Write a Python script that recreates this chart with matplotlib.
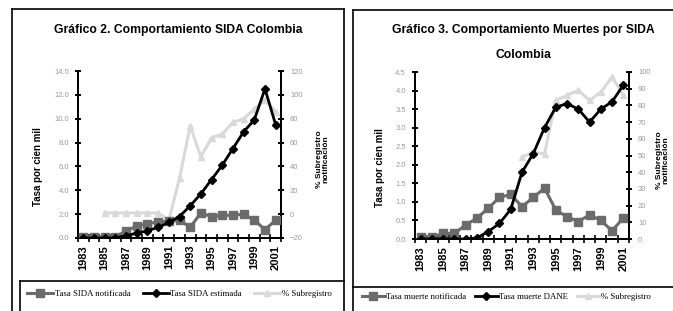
"""Two-panel Excel-style chart: SIDA rates and under-registration in Colombia."""

import matplotlib

matplotlib.use("Agg")
import matplotlib.pyplot as plt
import numpy as np
from matplotlib import font_manager
from matplotlib.lines import Line2D
from matplotlib.ticker import FormatStrFormatter, MultipleLocator

W, H = 673, 311

YEARS = list(range(1983, 2002))
YEAR_LABELS = [str(y) for y in YEARS[::2]]

# Gráfico 2
sida_notificada = [0.1, 0.1, 0.1, 0.1, 0.6, 1.0, 1.2, 1.35, 1.4, 1.5,
                   0.9, 2.1, 1.8, 1.9, 1.9, 2.0, 1.5, 0.7, 1.5]
sida_estimada = [0.0, 0.0, 0.0, 0.0, 0.2, 0.4, 0.6, 0.9, 1.3, 1.8,
                 2.7, 3.7, 4.9, 6.1, 7.5, 8.9, 9.9, 12.5, 9.5]
sida_subregistro = [None, None, 1, 1, 1, 1, 1, 1, -5, 30,
                    74, 48, 64, 67, 77, 80, 88, 96, 86]

# Gráfico 3
muerte_notificada = [0.05, 0.05, 0.15, 0.15, 0.38, 0.56, 0.83, 1.12, 1.2, 0.87,
                     1.12, 1.37, 0.78, 0.6, 0.47, 0.65, 0.5, 0.22, 0.57]
muerte_dane = [0.0, 0.0, 0.0, 0.0, 0.0, 0.03, 0.2, 0.42, 0.8, 1.8,
               2.3, 3.0, 3.55, 3.65, 3.5, 3.15, 3.5, 3.7, 4.15]
muerte_subregistro = [None] * 9 + [49, 52, 51, 83, 86, 89, 83, 88, 97, 86]


def pick(*names):
    have = {f.name for f in font_manager.fontManager.ttflist}
    for n in names:
        if n in have:
            return n
    return "DejaVu Sans"


NARROW = pick("Liberation Sans Narrow", "Liberation Sans", "Arial")
SANS = pick("Liberation Sans", "Arial")
SERIF = pick("Liberation Serif", "DejaVu Serif")

DARK = "#6b6b6b"
LIGHT = "#d9d9d9"
TICKGREY = "#9a9a9a"


def fx(x):
    return x / W


def fy(y):
    return 1 - y / H


def fig_line(fig, xs, ys):
    fig.add_artist(Line2D([fx(x) for x in xs], [fy(y) for y in ys],
                          transform=fig.transFigure, color="black", lw=1.2))


def to_arr(vals):
    return np.array([np.nan if v is None else v for v in vals], dtype=float)


def panel(fig, rect, left, right, lmax, lstep, rlim, rstep, ylx, yrx):
    ax = fig.add_axes(rect)
    tw = ax.twinx()
    x = np.arange(len(YEARS))

    l1, = ax.plot(x, left[0], color=DARK, lw=2.2, marker="s", ms=5.5,
                  mfc=DARK, mec=DARK, zorder=3)
    l2, = ax.plot(x, left[1], color="black", lw=2.0, marker="D", ms=4.5,
                  mfc="black", mec="black", zorder=4)
    l3, = tw.plot(x, to_arr(right), color=LIGHT, lw=2.2, marker="^", ms=5,
                  mfc=LIGHT, mec=LIGHT)
    ax.set_zorder(tw.get_zorder() + 1)
    ax.patch.set_visible(False)

    ax.set_xlim(-0.5, len(YEARS) - 0.5)
    ax.set_ylim(0, lmax)
    ax.yaxis.set_major_locator(MultipleLocator(lstep))
    ax.yaxis.set_major_formatter(FormatStrFormatter("%.1f"))
    tw.set_ylim(*rlim)
    tw.yaxis.set_major_locator(MultipleLocator(rstep))

    ax.set_xticks(x[::2])
    ax.set_xticklabels(YEAR_LABELS, rotation=90, fontsize=8,
                       fontweight="bold", family=SANS)
    ax.set_xticks(np.arange(-0.5, len(YEARS), 1), minor=True)
    ax.tick_params(axis="x", which="major", length=0, pad=5)
    ax.tick_params(axis="x", which="minor", direction="inout", length=6,
                   width=1.2)

    for a in (ax, tw):
        for s in a.spines.values():
            s.set_linewidth(1.4)
        a.spines["top"].set_visible(False)
        a.tick_params(axis="y", direction="inout", length=5, width=1.4,
                      labelsize=5.5, labelcolor=TICKGREY, pad=4)
        for t in a.get_yticklabels():
            t.set_family(SANS)

    ax.set_ylabel("Tasa por cien mil", fontsize=7, fontweight="bold",
                  family=SANS)
    ax.yaxis.set_label_coords(ylx, 0.43)
    tw.set_ylabel("% Subregistro\nnotificación", fontsize=6,
                  fontweight="bold", family=SANS, rotation=90,
                  linespacing=1.0)
    tw.yaxis.set_label_coords(yrx, 0.47)
    return l1, l2, l3


def legend(fig, handles, labels, x, y, hlen, spacing):
    fig.legend(handles, labels, loc="center left",
               bbox_to_anchor=(fx(x), fy(y)), ncol=3, frameon=False,
               borderaxespad=0, borderpad=0, handlelength=hlen,
               handletextpad=0.15, columnspacing=spacing,
               prop={"family": SERIF, "size": 6.3})


def main():
    fig = plt.figure(figsize=(W / 100, H / 100), dpi=100)

    # frames as in the scanned page
    fig_line(fig, [12, 344], [9, 9])
    fig_line(fig, [12, 12], [9, 311])
    fig_line(fig, [344, 344], [9, 311])
    fig_line(fig, [20, 344], [281, 281])
    fig_line(fig, [20, 20], [281, 311])
    fig_line(fig, [353, 673], [10, 10])
    fig_line(fig, [353, 353], [10, 311])
    fig_line(fig, [353, 673], [287, 287])

    h = panel(fig, [fx(78), fy(238), (281 - 78) / W, (238 - 71) / H],
              (sida_notificada, sida_estimada), sida_subregistro,
              14, 2, (-20, 120), 20, -0.172, 1.17)
    fig.text(fx(178), fy(30), "Gráfico 2. Comportamiento SIDA Colombia",
             ha="center", va="center", fontsize=8.7, fontweight="bold",
             family=NARROW)
    legend(fig, h, ["Tasa SIDA notificada", "Tasa SIDA estimada",
                    "% Subregistro"], 27, 294, 3.0, 1.4)

    h = panel(fig, [fx(415), fy(239), (629 - 415) / W, (239 - 72) / H],
              (muerte_notificada, muerte_dane), muerte_subregistro,
              4.5, 0.5, (0, 100), 10, -0.14, 1.125)
    fig.text(fx(523), fy(30), "Gráfico 3. Comportamiento Muertes por SIDA",
             ha="center", va="center", fontsize=8.7, fontweight="bold",
             family=NARROW)
    fig.text(fx(523), fy(55), "Colombia", ha="center", va="center",
             fontsize=8.7, fontweight="bold", family=NARROW)
    legend(fig, h, ["Tasa muerte notificada", "Tasa muerte DANE",
                    "% Subregistro"], 362, 297, 2.6, 1.0)

    fig.savefig("out.png", dpi=100)


if __name__ == "__main__":
    main()
